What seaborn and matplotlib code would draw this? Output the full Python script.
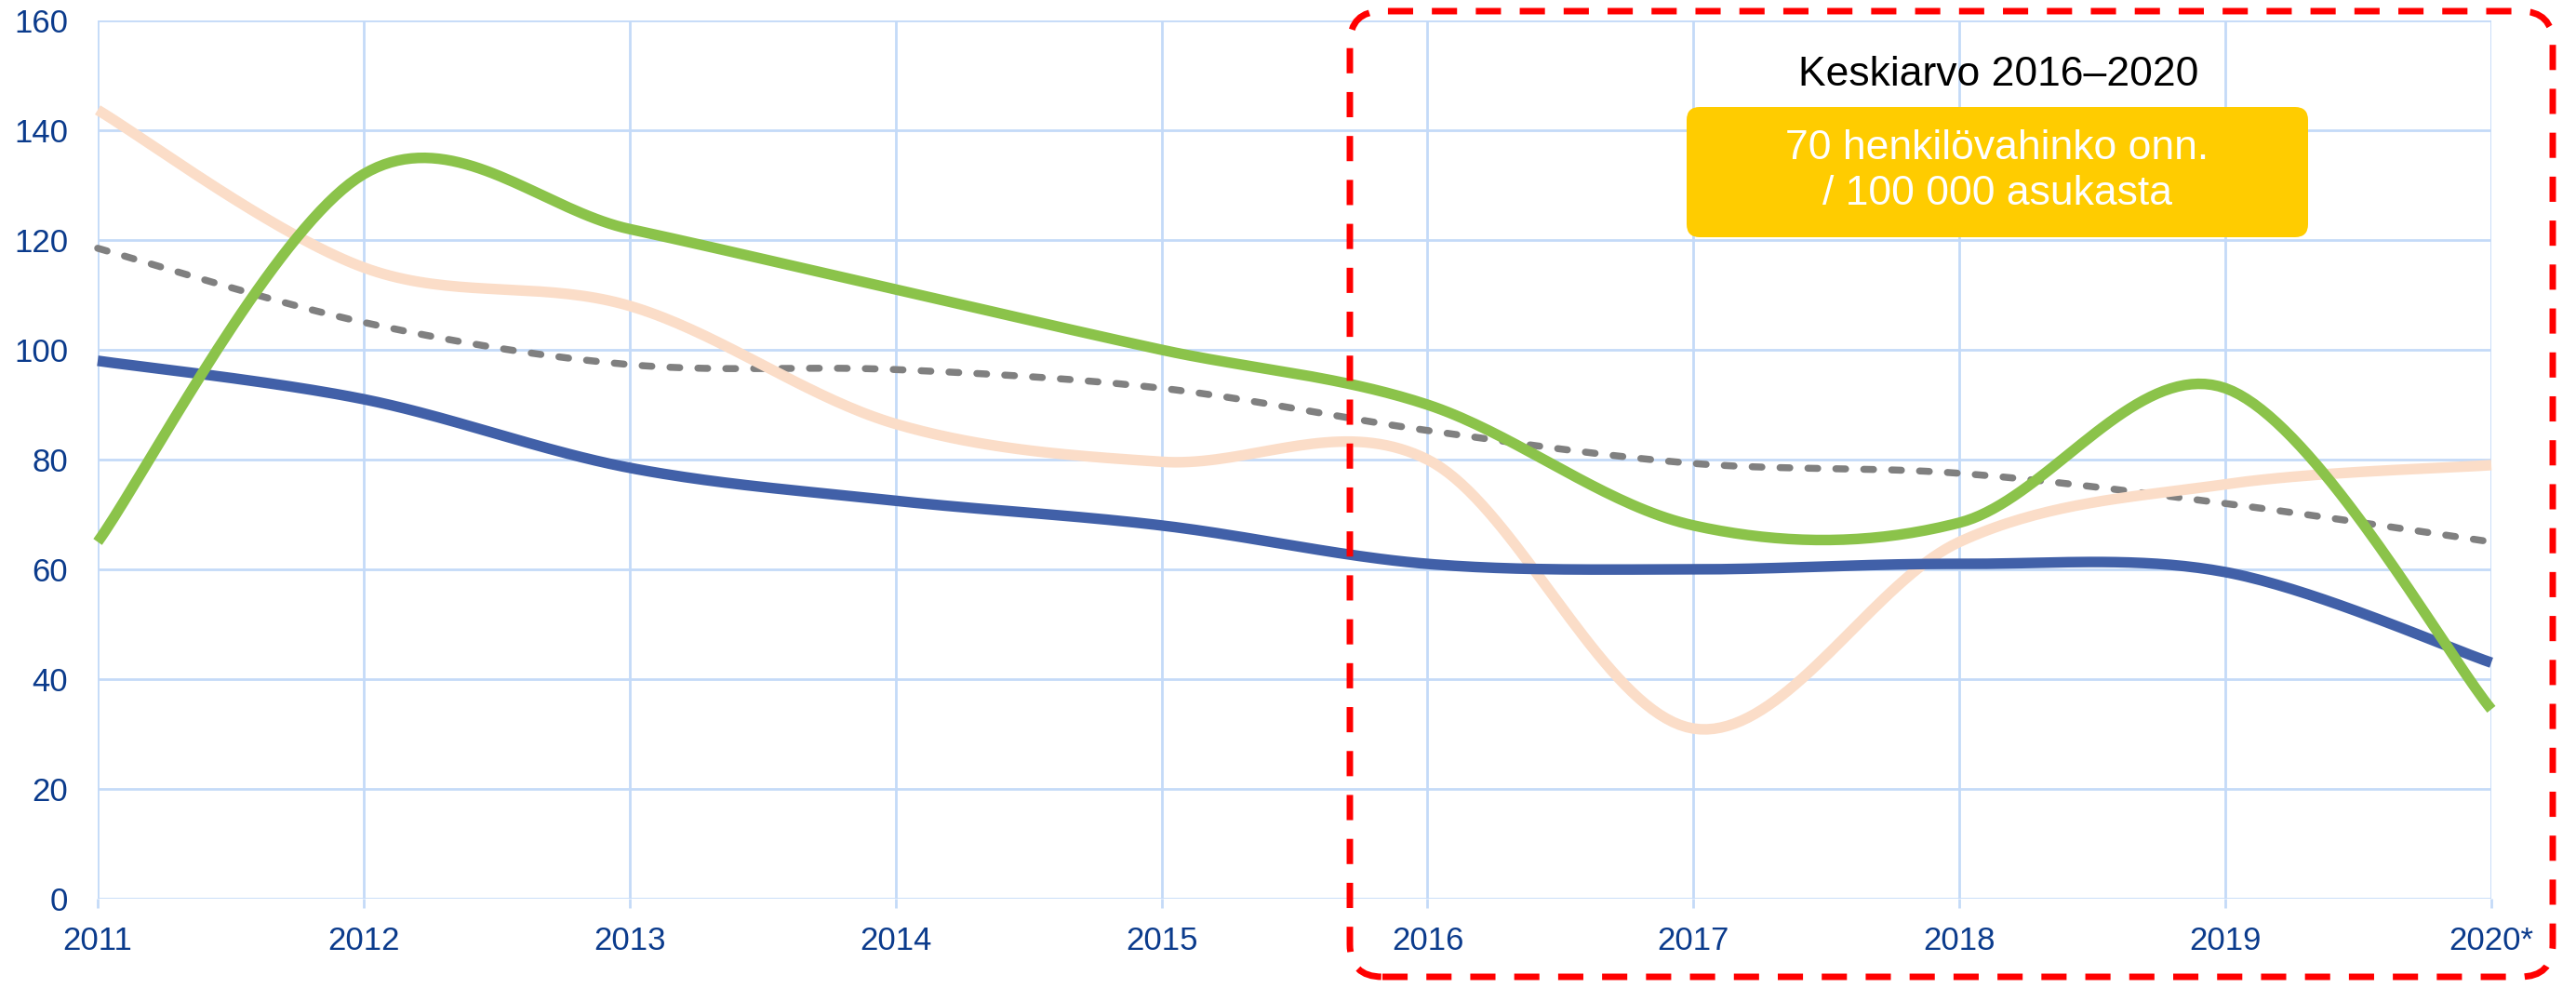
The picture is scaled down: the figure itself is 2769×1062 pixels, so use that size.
import numpy as np
import pandas as pd
import matplotlib
matplotlib.use("Agg")
import matplotlib.pyplot as plt
import seaborn as sns
from matplotlib.patches import FancyBboxPatch

# Values
years = [2011, 2012, 2013, 2014, 2015, 2016, 2017, 2018, 2019, 2020]
year_labels = ["2011", "2012", "2013", "2014", "2015", "2016", "2017", "2018", "2019", "2020*"]
blue_vals = [98, 91, 78.5, 72.5, 68, 61, 60, 61, 59.5, 43]
green_vals = [65, 132, 122, 111, 100, 90, 68, 68.5, 93, 34.5]
peach_vals = [143.7, 115, 108, 86.5, 79.6, 80, 31, 65, 75.5, 79]
gray_vals = [118.5, 105, 97.3, 96.4, 93, 85.3, 79.3, 77.5, 72, 65]
y_ticks = [0, 20, 40, 60, 80, 100, 120, 140, 160]

avg_title = "Keskiarvo 2016–2020"
avg_text = "70 henkilövahinko onn.\n/ 100 000 asukasta"

sns.set_theme(style="white")
plt.rcParams["font.family"] = ["Liberation Sans", "DejaVu Sans"]

W, H, DPI = 2769, 1062, 100
fig = plt.figure(figsize=(W / DPI, H / DPI), dpi=DPI)
ax = fig.add_axes([105 / W, 1 - 966 / H, (2678 - 105) / W, (966 - 22) / H])


def smooth(xs, ys, n=40):
    # Excel-style smoothed line: cubic Bezier between neighbouring points
    p = np.column_stack([xs, ys]).astype(float)
    ext = np.vstack([p[0], p, p[-1]])
    out = []
    t = np.linspace(0, 1, n)[:, None]
    for i in range(len(p) - 1):
        p0, p3 = ext[i + 1], ext[i + 2]
        c1 = p0 + (ext[i + 2] - ext[i]) / 6
        c2 = p3 - (ext[i + 3] - ext[i + 1]) / 6
        seg = ((1 - t) ** 3) * p0 + 3 * ((1 - t) ** 2) * t * c1 + 3 * (1 - t) * t ** 2 * c2 + t ** 3 * p3
        out.append(seg if i == 0 else seg[1:])
    c = np.vstack(out)
    return pd.DataFrame({"x": c[:, 0], "y": c[:, 1]})


grid_c = "#C4DAF8"
ax.set_xlim(2011, 2020)
ax.set_ylim(0, 160)
ax.set_xticks(years)
ax.set_xticklabels(year_labels)
ax.set_yticks(y_ticks)
ax.grid(True, color=grid_c, lw=2)
ax.set_axisbelow(True)
for s in ax.spines.values():
    s.set_visible(False)
ax.tick_params(axis="x", length=7, width=2, color=grid_c, pad=14,
               labelsize=25, labelcolor="#0B3B8C", bottom=True)
ax.tick_params(axis="y", length=0, pad=23, labelsize=25, labelcolor="#0B3B8C", left=True)

series = [
    (gray_vals, "#808080", 5.4, True),
    (peach_vals, "#FBDDC8", 8.2, False),
    (blue_vals, "#4160A8", 8.2, False),
    (green_vals, "#8BC34A", 8.2, False),
]
for vals, col, lw, dashed in series:
    d = smooth(years, vals)
    sns.lineplot(data=d, x="x", y="y", ax=ax, color=col, lw=lw,
                 sort=False, estimator=None, clip_on=False)
    l = ax.lines[-1]
    if dashed:
        l.set_dashes((1.4, 2.6))
        l.set_dash_capstyle("round")
    l.set_solid_capstyle("butt")

ax.set_xlabel("")
ax.set_ylabel("")

# Red dashed rounded frame (pixel coordinates)
frame = FancyBboxPatch((1451, 12), 2744 - 1451, 1050 - 12,
                       boxstyle="round,pad=0,rounding_size=35",
                       transform=None, fill=False, edgecolor="#FF0000",
                       lw=5, linestyle=(0, (3.9, 2.9)), zorder=10)
fig.patches.append(frame)

# Yellow box with the average
ybox = FancyBboxPatch((1813, 1062 - 255), 2481 - 1813, 255 - 115,
                      boxstyle="round,pad=0,rounding_size=14",
                      transform=None, facecolor="#FFCC00", edgecolor="none", zorder=10)
fig.patches.append(ybox)

fig.text(2148 / W, 1 - 80 / H, avg_title, ha="center", va="center",
         fontsize=32, color="black", zorder=11)
fig.text(2147 / W, 1 - 184 / H, avg_text, ha="center", va="center",
         fontsize=32, color="white", linespacing=1.25, zorder=11)

fig.savefig("out.png", dpi=DPI, facecolor="white")
